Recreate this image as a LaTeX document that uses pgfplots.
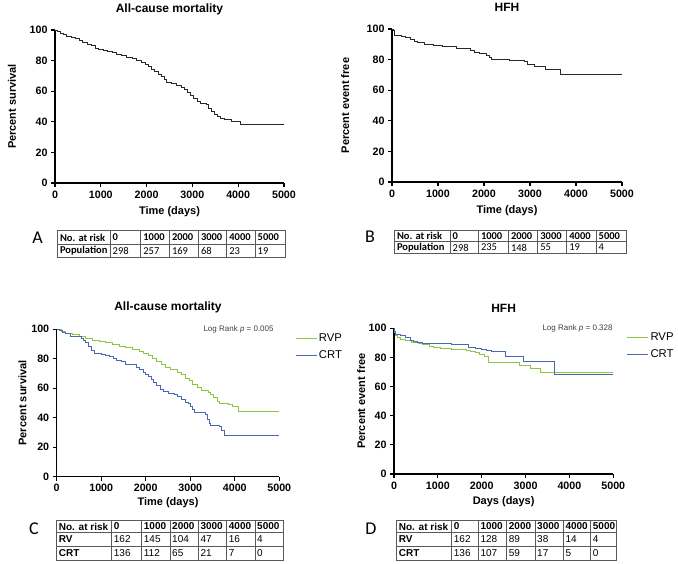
\documentclass[border=0pt]{standalone}
\usepackage{fontspec}
\setmainfont{Liberation Sans}
\newfontfamily\calibri{Carlito}
\usepackage{pgfplots}
\pgfplotsset{compat=1.18}
\definecolor{rvp}{RGB}{141,198,63}
\definecolor{crt}{RGB}{72,103,180}
\definecolor{kmgray}{RGB}{40,40,40}

\pgfplotsset{
  km/.style={
    scale only axis, clip=false,
    xmin=0, xmax=5000, ymin=0, ymax=100,
    axis lines=left, axis line style={-, line width=1.4pt},
    xtick={0,1000,...,5000}, ytick={0,20,...,100},
    tick align=outside, major tick length=4pt,
    tick style={line width=1.1pt, black},
    /pgf/number format/assume math mode=true,
    /pgf/number format/1000 sep={},
    ticklabel style={font=\fontsize{10.7}{12}\selectfont\bfseries},
    label style={font=\fontsize{11}{13}\selectfont\bfseries},
    legend cell align=left,
    legend style={draw=none, fill=none, inner sep=0pt, row sep=4pt,
      font=\fontsize{11.3}{13}\selectfont},
    legend image code/.code={\draw[##1, line width=0.9pt] (0pt,0pt) -- (16pt,0pt);
      \path (0pt,0pt) -- (21pt,0pt);},
  },
  curve/.style={const plot, line width=0.8pt},
}
\tikzset{ttl/.style={font=\fontsize{12}{14}\selectfont\bfseries, anchor=center}}

\begin{document}
\begin{tikzpicture}
\path[use as bounding box] (0pt,0pt) rectangle (678pt,563pt);

% A
\begin{axis}[km, at={(55pt,380pt)}, anchor=south west, width=229pt, height=153pt,
  xlabel={Time (days)}, xlabel style={at={(axis description cs:0.5,-0.188)}, anchor=center},
  ylabel={Percent survival}, ylabel style={at={(axis description cs:-0.188,0.5)}, anchor=center}]
\addplot[curve, kmgray] coordinates {(0,100)(60,99)(120,98)(180,97)(250,95.5)(350,95)(450,94.3)(530,93.3)(600,92)(700,90.5)(800,89.8)(880,88)(950,87.3)(1050,86.5)(1150,86)(1250,85.3)(1350,84.3)(1450,83.3)(1550,82)(1700,81.5)(1780,80)(1880,78.7)(1980,77.5)(2050,76.5)(2100,74.5)(2180,72.8)(2250,71)(2320,69.5)(2380,67.5)(2430,65.5)(2550,65)(2650,64)(2750,62.5)(2830,61)(2900,59.5)(2950,57.5)(3020,55)(3100,53.5)(3180,52)(3300,51.5)(3360,49)(3420,46.5)(3470,45)(3550,43.7)(3620,42.5)(3700,41.5)(3850,40)(4050,38)(5000,38)};
\node[ttl] at (rel axis cs:0.5,1.137) {All-cause mortality};
\end{axis}

% B
\begin{axis}[km, at={(392pt,381pt)}, anchor=south west, width=230pt, height=153pt,
  xlabel={Time (days)}, xlabel style={at={(axis description cs:0.5,-0.188)}, anchor=center},
  ylabel={Percent event free}, ylabel style={at={(axis description cs:-0.204,0.5)}, anchor=center}]
\addplot[curve, kmgray] coordinates {(0,100)(40,99)(60,96)(200,95)(300,94.5)(400,93.5)(480,92)(550,91)(700,90.2)(900,89.2)(1100,88.3)(1400,87.6)(1600,87)(1700,85.8)(1800,84.8)(1900,83.8)(2050,82.8)(2120,81.5)(2160,80)(2550,79.3)(2880,78.5)(2940,76.6)(3100,75.3)(3330,73.5)(3660,70.5)(5000,70.5)};
\node[ttl] at (rel axis cs:0.5,1.144) {HFH};
\end{axis}

% C
\begin{axis}[km, at={(56.7pt,86.3pt)}, anchor=south west, width=222.6pt, height=147.4pt,
  xlabel={Time (days)}, xlabel style={at={(axis description cs:0.5,-0.176)}, anchor=center},
  ylabel={Percent survival}, ylabel style={at={(axis description cs:-0.154,0.5)}, anchor=center},
  legend style={at={(axis description cs:1.07,0.985)}, anchor=north west}]
\addplot[curve, rvp] coordinates {(0,100)(100,98.5)(200,97.5)(350,96.5)(500,95.5)(650,94)(800,92.8)(950,92)(1100,90.8)(1250,89.5)(1400,88.5)(1550,87.8)(1700,86.3)(1850,85)(1950,83.5)(2050,82)(2150,80)(2250,78.5)(2350,76.5)(2450,74)(2550,72.5)(2700,71)(2800,69.5)(2900,67)(2980,65)(3050,62.5)(3150,60.5)(3250,58.5)(3400,57.5)(3450,55.5)(3520,53.5)(3600,51)(3650,49.5)(3850,49)(3950,48)(4080,44)(5000,44)};
\addlegendentry{RVP}
\addplot[curve, crt] coordinates {(0,100)(60,99)(120,98)(200,97)(300,95.5)(450,95)(550,94)(600,92.5)(650,91)(720,88.5)(780,86)(850,83.5)(1000,83)(1100,82.5)(1180,81.5)(1280,80)(1350,79)(1450,78)(1550,76.5)(1700,76)(1780,74)(1850,72.5)(1950,71)(2000,69.5)(2050,68)(2120,66)(2180,64)(2250,62)(2320,59.5)(2400,58)(2500,56.5)(2650,56)(2700,54.5)(2800,52.5)(2880,50.5)(2950,49.5)(3000,47.5)(3050,45.5)(3100,43.5)(3350,42.5)(3380,39)(3430,36)(3450,34.5)(3650,34)(3700,31.5)(3760,28)(5000,28)};
\addlegendentry{CRT}
\node[ttl] at (rel axis cs:0.5,1.149) {All-cause mortality};
\node[font=\fontsize{8}{9}\selectfont, text=black!75] at (rel axis cs:0.817,1) {Log Rank \textit{p} = 0.005};
\end{axis}

% D
\begin{axis}[km, at={(394pt,89pt)}, anchor=south west, width=219.3pt, height=145.7pt,
  xlabel={Days (days)}, xlabel style={at={(axis description cs:0.5,-0.19)}, anchor=center},
  ylabel={Percent event free}, ylabel style={at={(axis description cs:-0.150,0.5)}, anchor=center},
  legend style={at={(axis description cs:1.06,0.985)}, anchor=north west}]
\addplot[curve, rvp] coordinates {(0,100)(15,97)(40,95)(70,93.5)(150,92.5)(250,91.5)(400,90.5)(550,89.5)(650,88.8)(800,87.5)(900,86.8)(1050,86)(1300,85.5)(1650,85)(1750,84)(1850,83.3)(1950,82.2)(2050,80.5)(2150,76.5)(2850,74.5)(3110,72.5)(3340,69.8)(5000,69.8)};
\addlegendentry{RVP}
\addplot[curve, crt] coordinates {(0,100)(20,98)(40,96)(150,95)(250,93.5)(370,92)(450,91)(530,90.4)(640,89.7)(1320,88.8)(1700,87)(1850,86.5)(2000,85.5)(2100,84.5)(2230,84)(2540,81)(2960,77)(3660,68.5)(5000,68.5)};
\addlegendentry{CRT}
\node[ttl] at (rel axis cs:0.5,1.137) {HFH};
\node[font=\fontsize{8}{9}\selectfont, text=black!75] at (rel axis cs:0.837,1) {Log Rank \textit{p} = 0.328};
\end{axis}

% number-at-risk tables
\begin{scope}[x=1pt, y=1pt, tbl/.style={draw=black!65, line width=0.6pt},
  cell/.style={anchor=west, inner sep=0pt}]
% A
\node[font=\calibri\fontsize{18}{20}\selectfont] at (37.5,325.5) {A};
\draw[tbl] (57.3,332.3) rectangle (285,305.7) (57.3,319) -- (285,319);
\foreach \x in {110,140.7,169.3,198.3,226.7,255} \draw[tbl] (\x,332.3) -- (\x,305.7);
\foreach \x/\t in {57.3/No. at risk,110/0,140.7/1000,169.3/2000,198.3/3000,226.7/4000,255/5000}
  \node[cell, font=\calibri\fontsize{10.5}{12}\selectfont\bfseries] at (\x+2.5,325.6) {\t};
\node[cell, font=\calibri\fontsize{10.5}{12}\selectfont\bfseries] at (59.8,312.3) {Population};
\foreach \x/\t in {110/298,140.7/257,169.3/169,198.3/68,226.7/23,255/19}
  \node[cell, font=\calibri\fontsize{10.5}{12}\selectfont] at (\x+2.5,312.3) {\t};
% B
\node[font=\calibri\fontsize{18}{20}\selectfont] at (370,326.3) {B};
\draw[tbl] (394.3,333) rectangle (626,309.7) (394.3,321.3) -- (626,321.3);
\foreach \x in {450,478.3,508.3,537.7,566.7,596} \draw[tbl] (\x,333) -- (\x,309.7);
\foreach \x/\t in {394.3/No. at risk,450/0,478.3/1000,508.3/2000,537.7/3000,566.7/4000,596/5000}
  \node[cell, font=\calibri\fontsize{10.5}{12}\selectfont\bfseries] at (\x+2.5,327.1) {\t};
\node[cell, font=\calibri\fontsize{10.5}{12}\selectfont\bfseries] at (396.8,315.5) {Population};
\foreach \x/\t in {450/298,478.3/235,508.3/148,537.7/55,566.7/19,596/4}
  \node[cell, font=\calibri\fontsize{10.5}{12}\selectfont] at (\x+2.5,315.5) {\t};
% C
\node[font=\calibri\fontsize{18}{20}\selectfont] at (34,34) {C};
\draw[tbl] (56.7,42.3) rectangle (283.3,3) (56.7,30.7) -- (283.3,30.7) (56.7,17) -- (283.3,17);
\foreach \x in {111.7,141.7,170,198.3,226.7,255} \draw[tbl] (\x,42.3) -- (\x,3);
\foreach \x/\t in {56.7/No. at risk,111.7/0,141.7/1000,170/2000,198.3/3000,226.7/4000,255/5000}
  \node[cell, font=\fontsize{10}{12}\selectfont\bfseries] at (\x+2,36.5) {\t};
\node[cell, font=\fontsize{10}{12}\selectfont\bfseries] at (58.7,23.8) {RV};
\node[cell, font=\fontsize{10}{12}\selectfont\bfseries] at (58.7,10) {CRT};
\foreach \x/\t in {111.7/162,141.7/145,170/104,198.3/47,226.7/16,255/4}
  \node[cell, font=\fontsize{10}{12}\selectfont] at (\x+2,23.8) {\t};
\foreach \x/\t in {111.7/136,141.7/112,170/65,198.3/21,226.7/7,255/0}
  \node[cell, font=\fontsize{10}{12}\selectfont] at (\x+2,10) {\t};
% D
\node[font=\calibri\fontsize{18}{20}\selectfont] at (371,34) {D};
\draw[tbl] (396.7,42.3) rectangle (616.7,3) (396.7,30.7) -- (616.7,30.7) (396.7,17) -- (616.7,17);
\foreach \x in {451.7,478.3,506.7,535,563.3,590.7} \draw[tbl] (\x,42.3) -- (\x,3);
\foreach \x/\t in {396.7/No. at risk,451.7/0,478.3/1000,506.7/2000,535/3000,563.3/4000,590.7/5000}
  \node[cell, font=\fontsize{10}{12}\selectfont\bfseries] at (\x+2,36.5) {\t};
\node[cell, font=\fontsize{10}{12}\selectfont\bfseries] at (398.7,23.8) {RV};
\node[cell, font=\fontsize{10}{12}\selectfont\bfseries] at (398.7,10) {CRT};
\foreach \x/\t in {451.7/162,478.3/128,506.7/89,535/38,563.3/14,590.7/4}
  \node[cell, font=\fontsize{10}{12}\selectfont] at (\x+2,23.8) {\t};
\foreach \x/\t in {451.7/136,478.3/107,506.7/59,535/17,563.3/5,590.7/0}
  \node[cell, font=\fontsize{10}{12}\selectfont] at (\x+2,10) {\t};
\end{scope}
\end{tikzpicture}
\end{document}
